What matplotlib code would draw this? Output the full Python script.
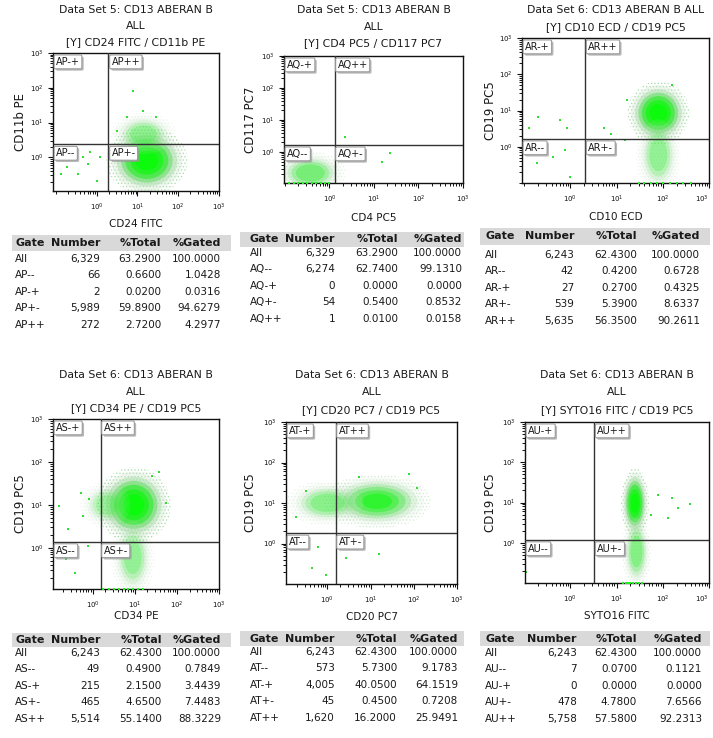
import numpy as np
import matplotlib
matplotlib.use("Agg")
import matplotlib.pyplot as plt
from matplotlib.patches import Ellipse, Rectangle
from matplotlib.ticker import FixedLocator, FixedFormatter, NullFormatter
import matplotlib.patheffects as pe

# ---------------- data ----------------
titles = [
    ["Data Set 5: CD13 ABERAN B", "ALL", "[Y] CD24 FITC / CD11b PE"],
    ["Data Set 5: CD13 ABERAN B", "ALL", "[Y] CD4 PC5 / CD117 PC7"],
    ["Data Set 6: CD13 ABERAN B ALL", "[Y] CD10 ECD / CD19 PC5"],
    ["Data Set 6: CD13 ABERAN B", "ALL", "[Y] CD34 PE / CD19 PC5"],
    ["Data Set 6: CD13 ABERAN B", "ALL", "[Y] CD20 PC7 / CD19 PC5"],
    ["Data Set 6: CD13 ABERAN B", "ALL", "[Y] SYTO16 FITC / CD19 PC5"],
]
x_labels = ["CD24 FITC", "CD4 PC5", "CD10 ECD", "CD34 PE", "CD20 PC7", "SYTO16 FITC"]
y_labels = ["CD11b PE", "CD117 PC7", "CD19 PC5", "CD19 PC5", "CD19 PC5", "CD19 PC5"]
gate_prefix = ["AP", "AQ", "AR", "AS", "AT", "AU"]
gate_x = [1.95, 1.3, 2.1, 1.55, 1.55, 3.3]
gate_y = [2.35, 1.65, 1.65, 1.38, 1.8, 1.18]
x_min = [0.085, 0.095, 0.09, 0.115, 0.11, 0.105]
y_min = [0.107, 0.107, 0.10, 0.11, 0.10, 0.10]
axis_max = 1000
tick_values = [1, 10, 100, 1000]
tick_labels = [r"$10^{0}$", r"$10^{1}$", r"$10^{2}$", r"$10^{3}$"]

table_header = ["Gate", "Number", "%Total", "%Gated"]
gate_suffix = ["All", "--", "-+", "+-", "++"]
gate_numbers = [
    [6329, 66, 2, 5989, 272],
    [6329, 6274, 0, 54, 1],
    [6243, 42, 27, 539, 5635],
    [6243, 49, 215, 465, 5514],
    [6243, 573, 4005, 45, 1620],
    [6243, 7, 0, 478, 5758],
]
pct_total = [
    [63.29, 0.66, 0.02, 59.89, 2.72],
    [63.29, 62.74, 0.0, 0.54, 0.01],
    [62.43, 0.42, 0.27, 5.39, 56.35],
    [62.43, 0.49, 2.15, 4.65, 55.14],
    [62.43, 5.73, 40.05, 0.45, 16.20],
    [62.43, 0.07, 0.0, 4.78, 57.58],
]
pct_gated = [
    [100.0, 1.0428, 0.0316, 94.6279, 4.2977],
    [100.0, 99.1310, 0.0, 0.8532, 0.0158],
    [100.0, 0.6728, 0.4325, 8.6337, 90.2611],
    [100.0, 0.7849, 3.4439, 7.4483, 88.3229],
    [100.0, 9.1783, 64.1519, 0.7208, 25.9491],
    [100.0, 0.1121, 0.0, 7.6566, 92.2313],
]

# event clouds: (center x, center y, half-width in decades x, y, density)
clusters = [
    [(17, 0.8, 0.62, 0.62, 1.0), (14, 4.5, 0.5, 0.4, 0.25)],
    [(0.37, 0.22, 0.5, 0.42, 0.35)],
    [(80, 8.5, 0.42, 0.55, 1.0), (80, 0.6, 0.3, 0.7, 0.25)],
    [(9.5, 10, 0.55, 0.55, 1.0), (9, 0.6, 0.32, 0.6, 0.25), (2.2, 10, 0.4, 0.35, 0.2)],
    [(14, 11, 0.78, 0.42, 0.5), (1.0, 10, 0.6, 0.35, 0.28)],
    [(25, 9.5, 0.19, 0.55, 1.0), (27, 0.6, 0.2, 0.6, 0.3)],
]
sparse_x = [
    [0.69, 0.63, 0.35, 0.19, 1.2, 1.0, 0.13, 0.47, 7.8, 14, 29, 5.4, 3.1],
    [2.2, 23, 15],
    [0.2, 0.85, 0.6, 0.13, 0.43, 0.19, 0.78, 1.0, 7.5, 5.4, 15, 17, 155],
    [0.16, 0.26, 0.54, 0.83, 0.59, 0.24, 0.38, 0.76, 38, 26, 54],
    [0.32, 0.19, 0.45, 0.91, 0.59, 2.7, 15.5, 76, 120, 5.4],
    [79, 155, 218, 390, 130, 56, 0.11],
]
sparse_y = [
    [1.38, 0.65, 0.33, 0.51, 1.0, 0.21, 0.33, 1.0, 79, 21, 14, 14, 5.8],
    [2.9, 0.93, 0.49],
    [6.8, 3.2, 5.5, 3.2, 0.53, 0.35, 0.81, 0.15, 2.3, 3.2, 1.5, 20, 51],
    [9.5, 2.7, 19, 13.5, 5.5, 0.54, 0.26, 1.1, 57, 48, 11],
    [20, 4.4, 0.25, 0.17, 0.8, 0.45, 0.55, 52, 24, 43],
    [15.5, 13, 7.2, 9.1, 4.1, 5, 0.19],
]
# events piled on the lower axis edge
edge_x = [
    [],
    [0.12, 0.16, 0.2, 0.26, 0.32, 0.4, 0.5, 0.65, 0.8, 1.0],
    [30, 40, 55, 75, 100, 140, 200, 280, 400],
    [1.8, 2.4, 3.2, 4.2, 5.5, 7, 9, 12, 16],
    [],
    [14, 16, 18, 20, 23, 26, 30, 35],
]

# ---------------- layout (pixels) ----------------
W, H = 713, 738
axes_px = [(53, 53, 219, 191), (284, 56, 463, 183), (522, 38, 709, 183),
           (53, 419, 219, 589), (286, 422, 457, 584), (525, 422, 709, 583)]
title_y = [(10, 26, 42), (10, 27, 43), (10, 27), (375, 392, 408), (375, 392, 410), (375, 392, 410)]
xlabel_y = [224, 218, 217, 616, 617, 616]
ylabel_x = [20, 250, 490, 20, 250, 490]
band_px = [(12, 231, 235, 251), (240, 464, 232, 247), (480, 710, 228, 245),
           (12, 231, 633, 647), (240, 464, 631, 646), (480, 710, 631, 646)]
header_y = [243, 239.5, 236.5, 640, 638.5, 638.5]
row0_y = [259, 253, 255, 653, 652, 653]
row_gap = 16.4
cols_px = [(15, 100, 161, 221), (250, 335, 398, 462), (485, 574, 637, 700),
           (15, 100, 162, 221), (250, 335, 397, 458), (485, 577, 637, 702)]

plt.rcParams["font.family"] = ["DejaVu Sans"]
plt.rcParams["hatch.linewidth"] = 0.6
fig = plt.figure(figsize=(W / 100, H / 100), dpi=100)
fig.patch.set_facecolor("white")

TXT = "#1a1a1a"


def ftext(x, y, s, **kw):
    return fig.text(x / W, 1 - y / H, s, **kw)


blob_layers = [(1.4, "#d2e8d2", 0.4), (1.2, "#a8dea8", 0.5), (1.02, "#78e078", 0.7),
               (0.85, "#45ea45", 0.85), (0.65, "#22f322", 0.95), (0.45, "#0cfa0c", 1.0)]


def draw_blob(ax, cx, cy, hx, hy, dens):
    tr = ax.transLimits + ax.transAxes
    lx, ly = np.log10(cx), np.log10(cy)
    e = Ellipse((lx, ly), 2 * hx * 1.6, 2 * hy * 1.6, transform=tr, facecolor="none",
                edgecolor="#77c877", lw=0, hatch=".....", alpha=0.55 * dens, zorder=1)
    ax.add_patch(e)
    for s, c, a in blob_layers:
        if dens < 0.5 and s < 0.6:
            continue
        e = Ellipse((lx, ly), 2 * hx * s, 2 * hy * s, transform=tr, facecolor=c,
                    alpha=a * dens, lw=0, zorder=1)
        ax.add_patch(e)


for i in range(6):
    l, t, r, b = axes_px[i]
    ax = fig.add_axes([l / W, 1 - b / H, (r - l) / W, (b - t) / H])
    ax.set_xscale("log")
    ax.set_yscale("log")
    ax.set_xlim(x_min[i], axis_max)
    ax.set_ylim(y_min[i], axis_max)
    for sp in ax.spines.values():
        sp.set_linewidth(1.0)
        sp.set_color("#111111")
    minors = [k * 10.0 ** d for d in range(-1, 3) for k in range(1, 10)
              if k * 10.0 ** d not in tick_values and k * 10.0 ** d > x_min[i]]
    for axis in (ax.xaxis, ax.yaxis):
        axis.set_major_locator(FixedLocator(tick_values))
        axis.set_major_formatter(FixedFormatter(tick_labels))
        axis.set_minor_locator(FixedLocator(minors))
        axis.set_minor_formatter(NullFormatter())
    ax.tick_params(which="major", length=3.5, width=0.8, labelsize=5, pad=3, colors="#111111")
    ax.tick_params(which="minor", length=2.2, width=0.7, colors="#111111")
    ax.tick_params(axis="x", which="major", pad=4)
    if r > 700:
        ax.xaxis.get_major_ticks()[-1].label1.set_horizontalalignment("right")

    for (cx, cy, hx, hy, d) in clusters[i]:
        draw_blob(ax, cx, cy, hx, hy, d)
    ax.scatter(sparse_x[i], sparse_y[i], s=2.5, marker="s", color="#33dd33", lw=0, zorder=2)
    if edge_x[i]:
        ax.scatter(edge_x[i], [y_min[i]] * len(edge_x[i]), s=3, marker="s", color="#22ee22",
                   lw=0, zorder=4, clip_on=False)

    ax.axvline(gate_x[i], color="#333333", lw=1.0, zorder=3)
    ax.axhline(gate_y[i], color="#333333", lw=1.0, zorder=3)

    quad_pos = [("-+", x_min[i], axis_max), ("++", gate_x[i], axis_max),
                ("--", x_min[i], gate_y[i]), ("+-", gate_x[i], gate_y[i])]
    for suf, qx, qy in quad_pos:
        a = ax.annotate(gate_prefix[i] + suf, xy=(qx, qy), xytext=(2.2, -2.8),
                        textcoords="offset points", ha="left", va="top", fontsize=7,
                        color=TXT, zorder=5,
                        bbox=dict(boxstyle="round,pad=0.2,rounding_size=0.15", fc="white",
                                  ec="#9a9a9a", lw=0.8))
        a.get_bbox_patch().set_path_effects([
            pe.SimplePatchShadow(offset=(1.3, -1.3), shadow_rgbFace="#9a9a9a", alpha=0.7),
            pe.Normal()])

    cxp = (l + r) / 2
    for line, yy in zip(titles[i], title_y[i]):
        ftext(cxp, yy, line, ha="center", va="center", fontsize=7.8, color=TXT)
    ftext(cxp, xlabel_y[i], x_labels[i], ha="center", va="center", fontsize=7.5, color=TXT)
    ftext(ylabel_x[i], (t + b) / 2, y_labels[i], ha="center", va="center", fontsize=8.5,
          rotation=90, color=TXT)

    # statistics table
    x0, x1, y0, y1 = band_px[i]
    fig.add_artist(Rectangle((x0 / W, 1 - y1 / H), (x1 - x0) / W, (y1 - y0) / H,
                             transform=fig.transFigure, facecolor="#d9d9d9", lw=0, zorder=0))
    cols = cols_px[i]
    ftext(cols[0], header_y[i], table_header[0], ha="left", va="center", fontsize=8,
          weight="bold", color=TXT)
    for j in range(1, 4):
        ftext(cols[j], header_y[i], table_header[j], ha="right", va="center", fontsize=8,
              weight="bold", color=TXT)
    for rr in range(5):
        yy = row0_y[i] + row_gap * rr
        name = gate_suffix[0] if rr == 0 else gate_prefix[i] + gate_suffix[rr]
        ftext(cols[0], yy, name, ha="left", va="center", fontsize=7.5, color=TXT)
        ftext(cols[1], yy, f"{gate_numbers[i][rr]:,}", ha="right", va="center", fontsize=7.5, color=TXT)
        ftext(cols[2], yy, f"{pct_total[i][rr]:.4f}", ha="right", va="center", fontsize=7.5, color=TXT)
        ftext(cols[3], yy, f"{pct_gated[i][rr]:.4f}", ha="right", va="center", fontsize=7.5, color=TXT)

fig.savefig("out.png", dpi=100)
